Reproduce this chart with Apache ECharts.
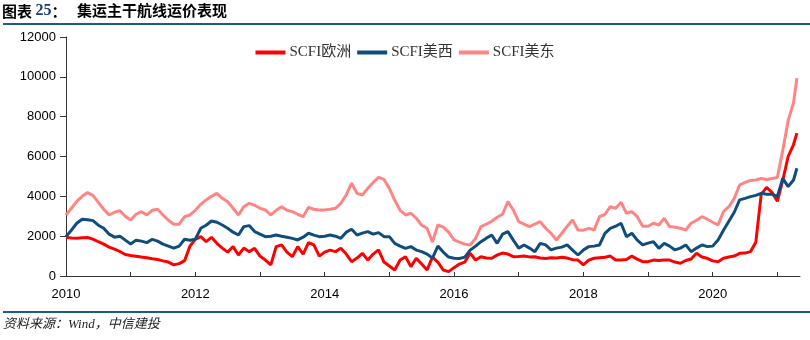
<!DOCTYPE html>
<html>
<head>
<meta charset="utf-8">
<script src="https://cdn.jsdelivr.net/npm/echarts@6/dist/echarts.min.js"></script>
<style>html,body{margin:0;padding:0;background:#fff}#c{width:810px;height:340px}</style>
</head>
<body>
<div id="c"></div>
<script>
// Monthly observations Jan 2010 .. Apr 2021, plus final reading 2021-04-20
var seriesNames = ['SCFI欧洲', 'SCFI美西', 'SCFI美东'];
var xTickLabels = ['2010', '2012', '2014', '2016', '2018', '2020'];

var dates = [];
(function () {
  for (var y = 2010; y <= 2021; y++) {
    for (var m = 1; m <= 12; m++) {
      if (y === 2021 && m > 4) break;
      dates.push(y + '-' + (m < 10 ? '0' + m : m) + '-01');
    }
  }
  dates.push('2021-04-20');
})();

var europe = [
  1940, 1910, 1900, 1920, 1930, 1850, 1720, 1600, 1450, 1350, 1230, 1080,
  1030, 990, 950, 920, 870, 830, 760, 700, 560, 620, 770, 1500,
  1843, 1975, 1725, 1940, 1640, 1400, 1200, 1475, 1055, 1400, 1223, 1390,
  1000, 800, 560, 1475, 1560, 1200, 970, 1475, 1100, 1675, 1560, 1000,
  1200, 1300, 1223, 1390, 1100, 720, 900, 1140, 800, 1100, 1310, 700,
  500, 300, 800, 970, 470, 890, 600, 300, 950, 700, 300, 220,
  420, 600, 700, 1140, 800, 970, 900, 890, 1055, 1150, 1100, 970,
  980, 1000, 960, 970, 900, 880, 920, 900, 940, 900, 820, 800,
  560, 800, 890, 920, 940, 1000, 800, 800, 830, 1000, 850, 720,
  720, 800, 780, 800, 800, 700, 640, 780, 850, 1140, 950, 890,
  760, 720, 890, 950, 1000, 1140, 1150, 1223, 1700, 4100, 4450, 4200,
  3750, 4800, 6000, 6600, 7170
];
var usWest = [
  1975, 2300, 2650, 2850, 2820, 2780, 2550, 2395, 2100, 1950, 2000, 1800,
  1608, 1800, 1750, 1675, 1843, 1750, 1600, 1500, 1400, 1500, 1843, 1800,
  1850, 2395, 2550, 2764, 2700, 2560, 2400, 2200, 2060, 2480, 2530, 2230,
  2100, 1975, 2000, 2060, 2000, 1950, 1890, 1810, 1950, 2145, 2050, 1975,
  2000, 2060, 2000, 1893, 2200, 2345, 2060, 2150, 2230, 2100, 2180, 1975,
  1975, 1640, 1500, 1390, 1475, 1300, 1223, 1100, 900, 1500, 1200, 950,
  890, 880, 950, 1300, 1500, 1725, 1900, 2060, 1640, 2100, 2230, 1800,
  1400, 1560, 1400, 1223, 1640, 1560, 1310, 1400, 1450, 1560, 1300, 1055,
  1300, 1475, 1500, 1560, 2145, 2395, 2500, 2650, 1975, 2145, 1800, 1560,
  1650, 1725, 1390, 1640, 1500, 1310, 1400, 1560, 1223, 1400, 1560, 1475,
  1500, 1810, 2300, 2750, 3200, 3820, 3900, 3985, 4050, 4150, 4100, 4100,
  4000, 4900, 4490, 4820, 5410
];
var usEast = [
  3065, 3400, 3750, 4000, 4190, 4050, 3700, 3350, 3065, 3200, 3280, 3000,
  2815, 3100, 3230, 3065, 3300, 3350, 3065, 2800, 2600, 2600, 2980, 3065,
  3300, 3600, 3820, 4000, 4150, 3900, 3730, 3400, 3065, 3480, 3650, 3550,
  3400, 3315, 3065, 3300, 3480, 3300, 3230, 3100, 2980, 3450, 3350, 3315,
  3320, 3350, 3400, 3650, 4070, 4660, 4150, 4070, 4400, 4700, 4950, 4850,
  4400, 3800, 3300, 3065, 3150, 2900, 2550, 2395, 1700, 2560, 2450, 2200,
  1810, 1700, 1600, 1560, 1890, 2480, 2600, 2750, 2950, 3100, 3735, 3315,
  2730, 2600, 2480, 2600, 2730, 2400, 2145, 1810, 2145, 2500, 2810, 2310,
  2300, 2395, 2310, 2980, 3100, 3480, 3400, 3700, 3150, 3230, 2980, 2500,
  2500, 2650, 2560, 2900, 2480, 2450, 2395, 2310, 2650, 2800, 2980, 2850,
  2700, 2560, 3230, 3480, 3900, 4570, 4700, 4800, 4820, 4900, 4850, 4900,
  4950, 6300, 7800, 8700, 9935
];

function toYear(s) {
  var p = s.split('-');
  return +p[0] + (+p[1] - 1) / 12 + (+p[2] - 1) / 365;
}
function pairs(vals) {
  return vals.map(function (v, i) { return [toYear(dates[i]), v]; });
}

var colors = ['#FF0000', '#0F4D7D', '#FF8585'];
var chart = echarts.init(document.getElementById('c'), null, {renderer: 'canvas'});
chart.setOption({
  animation: false,
  backgroundColor: '#fff',
  title: [
    {
      left: 2, top: 3, padding: 0,
      text: '{a|图表 }{b|25}{a|：}',
      textStyle: {
        rich: {
          a: {fontFamily: 'Noto Sans CJK SC', fontWeight: 'bold', fontSize: 15, color: '#000'},
          b: {fontFamily: 'Liberation Serif', fontWeight: 'bold', fontSize: 16, color: '#1f3a66'}
        }
      }
    },
    {
      left: 77, top: 3, padding: 0,
      text: '集运主干航线运价表现',
      textStyle: {fontFamily: 'Noto Sans CJK SC', fontWeight: 'bold', fontSize: 15, color: '#000'}
    },
    {
      left: 3, top: 318, padding: 0,
      text: '资料来源：Wind，中信建投',
      textStyle: {fontFamily: "'Liberation Serif', 'Noto Sans CJK SC'", fontStyle: 'italic', fontWeight: 'normal', fontSize: 13, color: '#222'}
    }
  ],
  graphic: [
    {type: 'rect', shape: {x: 3, y: 23, width: 807, height: 2}, style: {fill: '#1D5B96'}},
    {type: 'rect', shape: {x: 3, y: 311, width: 807, height: 2}, style: {fill: '#1D5B96'}}
  ],
  legend: {
    top: 40, left: 'center',
    itemWidth: 30, itemHeight: 4, itemGap: 6,
    icon: 'rect',
    textStyle: {fontFamily: "'Liberation Serif', 'Noto Sans CJK SC'", fontSize: 15, color: '#333', padding: [0, 0, 0, -1]},
    data: seriesNames
  },
  grid: {left: 66, right: 10, top: 37, bottom: 64, containLabel: false},
  xAxis: {
    type: 'value', min: 2010, max: 2021.35, interval: 1,
    splitLine: {show: false},
    axisLine: {lineStyle: {color: '#333', width: 1}},
    axisTick: {inside: true, length: 4, lineStyle: {color: '#333'}},
    axisLabel: {
      showMaxLabel: false, margin: 12,
      fontFamily: 'Liberation Sans', fontSize: 13, color: '#000',
      formatter: function (v) {
        var s = String(Math.round(v));
        return (Math.abs(v - Math.round(v)) < 1e-6 && xTickLabels.indexOf(s) >= 0) ? s : '';
      }
    }
  },
  yAxis: {
    type: 'value', min: 0, max: 12000, interval: 2000,
    splitLine: {show: false},
    axisLine: {show: true, lineStyle: {color: '#333', width: 1}},
    axisTick: {show: true, length: 6, lineStyle: {color: '#333'}},
    axisLabel: {
      margin: 10, fontFamily: 'Liberation Sans', fontSize: 13, color: '#000',
      formatter: function (v) { return String(v); }
    }
  },
  series: [
    {name: seriesNames[0], type: 'line', data: pairs(europe), showSymbol: false, color: colors[0], lineStyle: {width: 3}},
    {name: seriesNames[1], type: 'line', data: pairs(usWest), showSymbol: false, color: colors[1], lineStyle: {width: 3}},
    {name: seriesNames[2], type: 'line', data: pairs(usEast), showSymbol: false, color: colors[2], lineStyle: {width: 3}}
  ]
});
</script>
</body>
</html>
